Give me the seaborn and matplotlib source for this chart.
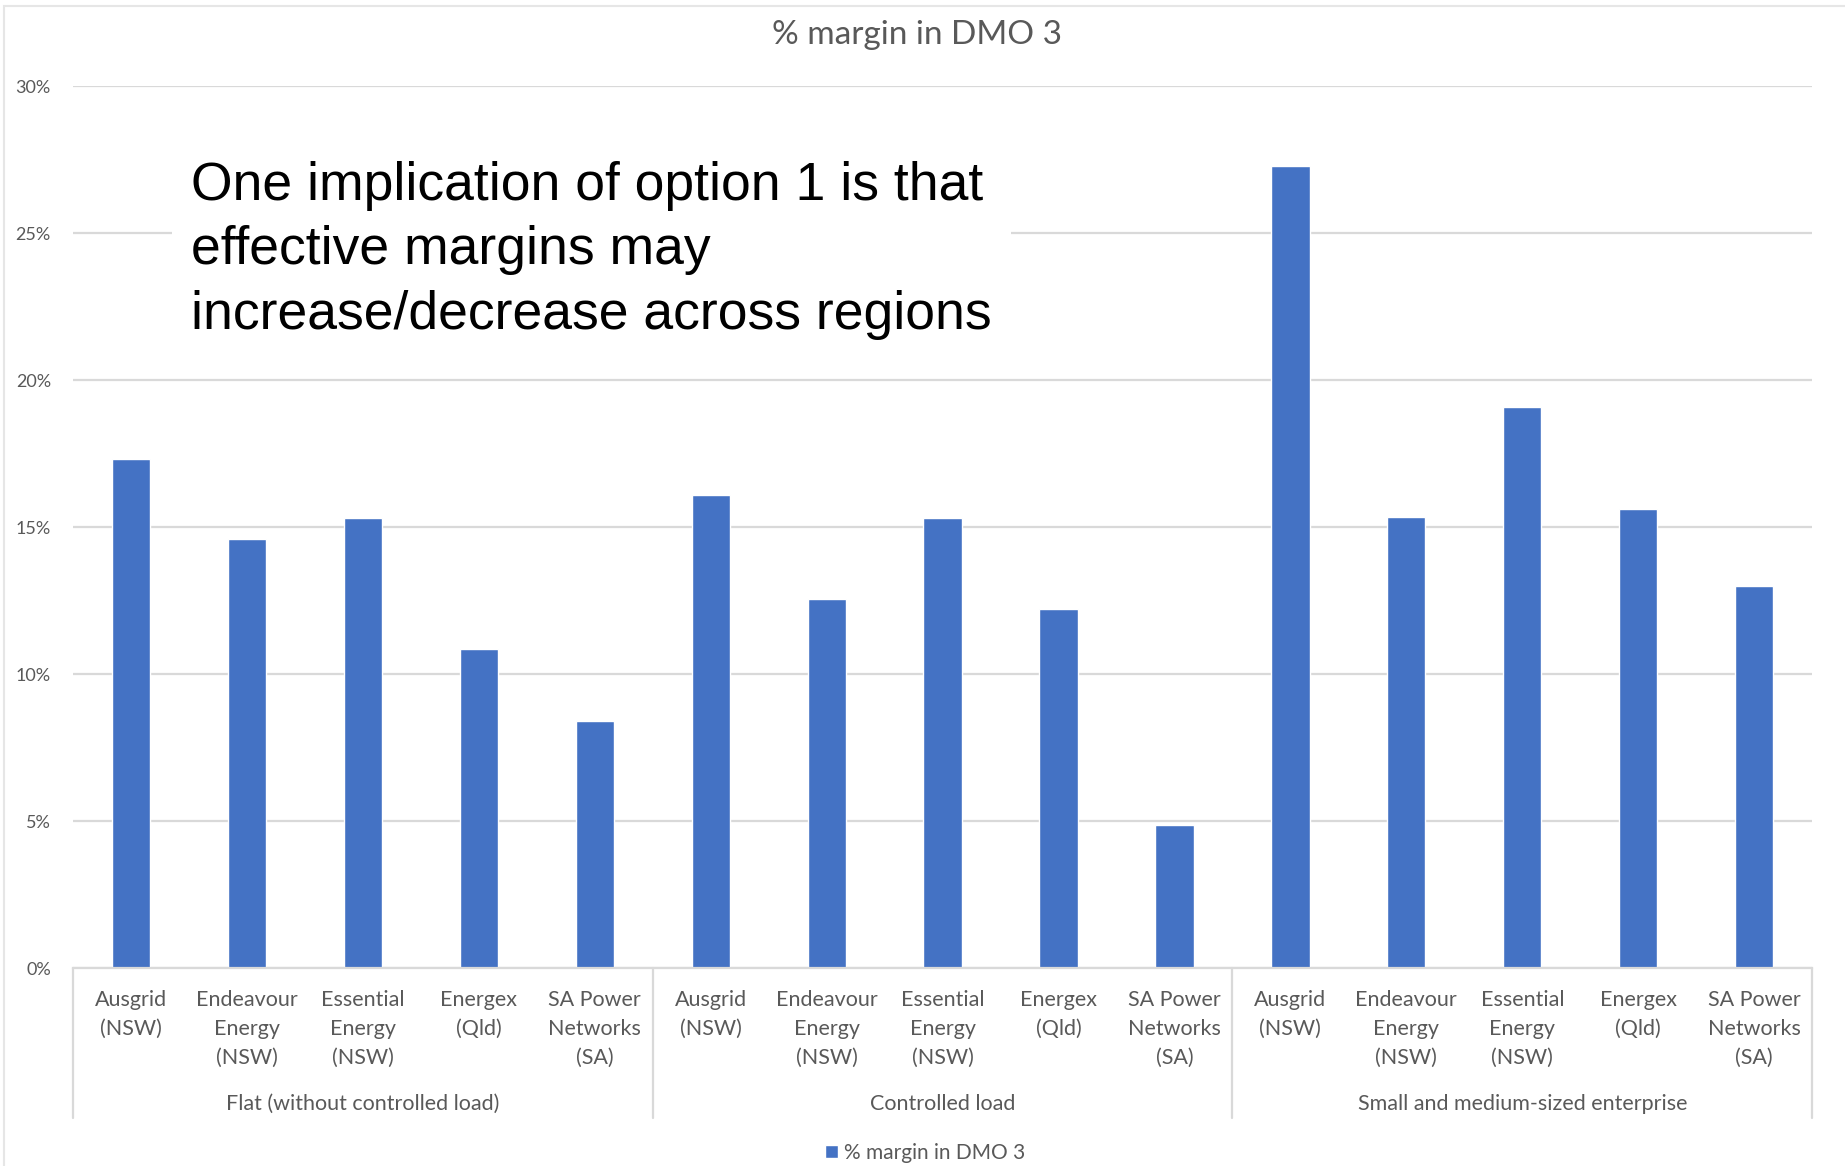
import matplotlib
matplotlib.use("Agg")
import matplotlib.pyplot as plt
import matplotlib.patches as mpatches
import matplotlib.transforms as mtransforms
from matplotlib.ticker import PercentFormatter
import pandas as pd
import seaborn as sns

# Data
groups = [
    "Flat (without controlled load)",
    "Controlled load",
    "Small and medium-sized enterprise",
]
companies = [
    "Ausgrid\n(NSW)",
    "Endeavour\nEnergy\n(NSW)",
    "Essential\nEnergy\n(NSW)",
    "Energex\n(Qld)",
    "SA Power\nNetworks\n(SA)",
]
flat_margin = [17.3, 14.6, 15.3, 10.85, 8.4]
controlled_margin = [16.1, 12.55, 15.3, 12.2, 4.85]
sme_margin = [27.3, 15.35, 19.1, 15.6, 13.0]

series_name = "% margin in DMO 3"
note = "One implication of option 1 is that\neffective margins may\nincrease/decrease across regions"

rows = []
for g, vals in zip(groups, [flat_margin, controlled_margin, sme_margin]):
    for c, v in zip(companies, vals):
        rows.append({"key": f"{g}|{c}", "group": g, "company": c, "margin": v})
df = pd.DataFrame(rows)

# Style
sns.set_theme(style="white")
plt.rcParams["font.family"] = ["Lato", "DejaVu Sans"]

BLUE = "#4472C4"
GRID = "#d9d9d9"
TXT = "#595959"

fig = plt.figure(figsize=(18.45, 11.66), dpi=100)
ax = fig.add_axes([0.0396, 0.1698, 0.9426, 0.7563])

sns.barplot(data=df, x="key", y="margin", color=BLUE, width=0.33,
            saturation=1, label=series_name, ax=ax)

ax.set_ylim(0, 30)
ax.set_xlim(-0.5, len(df) - 0.5)
ax.set_yticks(range(0, 31, 5))
ax.yaxis.set_major_formatter(PercentFormatter(decimals=0))
ax.yaxis.grid(True, color=GRID, linewidth=1.6)
ax.set_axisbelow(True)
for s in ["top", "right", "left"]:
    ax.spines[s].set_visible(False)
ax.spines["bottom"].set_color(GRID)
ax.spines["bottom"].set_linewidth(1.6)
ax.set_xlabel("")
ax.set_ylabel("")

ax.set_xticks(range(len(df)))
ax.set_xticklabels(df["company"], fontsize=15.5, color=TXT, linespacing=1.55, va="top")
ax.tick_params(axis="x", length=0, pad=16)
ax.tick_params(axis="y", length=0, pad=16, labelsize=13, labelcolor=TXT)

# group separators and labels
trans = mtransforms.blended_transform_factory(ax.transData, ax.transAxes)
for xb in [-0.5, 4.5, 9.5, 14.5]:
    ax.plot([xb, xb], [0, -0.17], transform=trans, color=GRID,
            linewidth=1.6, clip_on=False)
for i, g in enumerate(groups):
    ax.text(i * 5 + 2, -0.154, g, transform=trans, ha="center", va="center",
            fontsize=15.5, color=TXT)

ax.legend(loc="center", bbox_to_anchor=(0.49, -0.21), frameon=False,
          fontsize=15, labelcolor=TXT, handlelength=0.6, handleheight=0.6,
          handletextpad=0.3)

fig.text(0.497, 0.97, series_name, ha="center", va="center",
         fontsize=24, color=TXT)

fig.text(0.1035, 0.862, note, ha="left", va="top", fontsize=38.5,
         color="black", linespacing=1.37, family=["Liberation Sans", "DejaVu Sans"],
         bbox=dict(facecolor="white", edgecolor="none", pad=14))

# light outer chart border
fig.patches.append(mpatches.Rectangle((0.002, -0.05), 1.2, 1.045,
                                      transform=fig.transFigure, fill=False,
                                      edgecolor="#e6e6e6", linewidth=1.5))

fig.savefig("out.png", dpi=100)
